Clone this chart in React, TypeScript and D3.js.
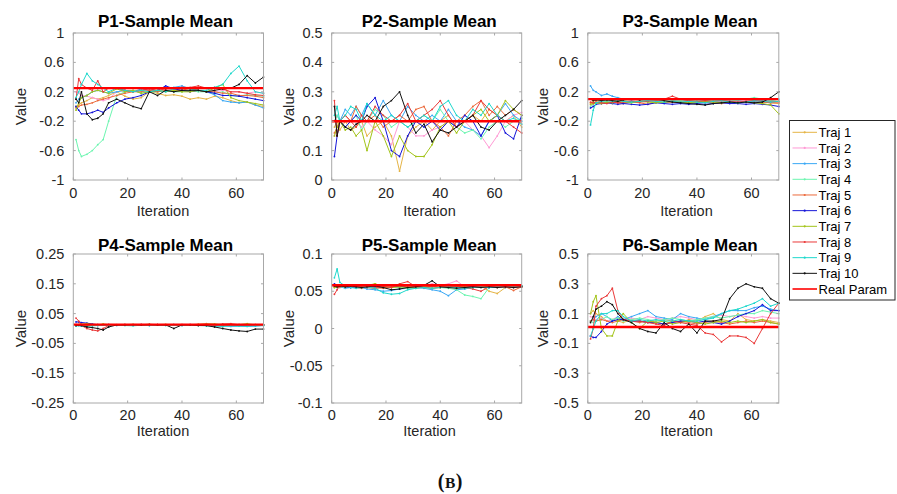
import React, { useEffect, useRef } from 'react';
import * as d3 from 'd3';

const iterations = [1, 2, 3, 5, 7, 9, 11, 13, 16, 19, 22, 25, 28, 31, 34, 37, 40, 43, 46, 49, 52, 55, 58, 61, 64, 67, 70];

const trajNames = ['Traj 1', 'Traj 2', 'Traj 3', 'Traj 4', 'Traj 5', 'Traj 6', 'Traj 7', 'Traj 8', 'Traj 9', 'Traj 10'];
const trajColors = ['#e5b445', '#ff9ad5', '#3aa8f5', '#6cf5b0', '#ec6a3c', '#1515d8', '#a3c41a', '#ea3a3a', '#1ed8cc', '#111111'];
const realColor = '#ff0000';

const panelTitles = ['P1-Sample Mean', 'P2-Sample Mean', 'P3-Sample Mean', 'P4-Sample Mean', 'P5-Sample Mean', 'P6-Sample Mean'];
const realParams = [0.25, 0.2, 0.1, 0.013, 0.058, 0.01];
const yDomains = [[-1, 1], [0, 0.5], [-1, 1], [-0.25, 0.25], [-0.1, 0.1], [-0.5, 0.5]];
const yTicks = [
  [-1, -0.6, -0.2, 0.2, 0.6, 1],
  [0, 0.1, 0.2, 0.3, 0.4, 0.5],
  [-1, -0.6, -0.2, 0.2, 0.6, 1],
  [-0.25, -0.15, -0.05, 0.05, 0.15, 0.25],
  [-0.1, -0.05, 0, 0.05, 0.1],
  [-0.5, -0.3, -0.1, 0.1, 0.3, 0.5],
];
const xDomain = [0, 70];
const xTicks = [0, 20, 40, 60];

const p1Traj = [
  [0.0, 0.02, 0.05, 0.08, 0.12, 0.1, 0.12, 0.15, 0.2, 0.14, 0.1, 0.12, 0.2, 0.18, 0.15, 0.16, 0.14, 0.1, 0.12, 0.1, 0.14, 0.12, 0.08, 0.05, 0.06, 0.02, 0.0],
  [0.2, 0.18, 0.15, 0.14, 0.12, 0.1, 0.08, 0.1, 0.2, 0.22, 0.2, 0.22, 0.22, 0.2, 0.22, 0.24, 0.22, 0.2, 0.22, 0.2, 0.2, 0.22, 0.2, 0.2, 0.18, 0.2, 0.18],
  [0.05, 0.1, 0.12, 0.15, 0.2, 0.22, 0.2, 0.18, 0.2, 0.22, 0.2, 0.24, 0.22, 0.25, 0.24, 0.26, 0.28, 0.24, 0.22, 0.2, 0.16, 0.08, 0.06, 0.05, 0.06, 0.02, -0.02],
  [-0.45, -0.6, -0.68, -0.65, -0.6, -0.52, -0.45, -0.2, 0.15, 0.2, 0.22, 0.18, 0.2, 0.2, 0.22, 0.2, 0.2, 0.22, 0.2, 0.2, 0.18, 0.2, 0.15, 0.14, 0.16, 0.15, 0.14],
  [-0.02, 0.0, 0.02, 0.03, 0.05, 0.08, 0.1, 0.12, 0.15, 0.18, 0.2, 0.2, 0.22, 0.2, 0.22, 0.22, 0.22, 0.25, 0.22, 0.2, 0.2, 0.18, 0.18, 0.15, 0.15, 0.14, 0.12],
  [0.0, -0.05, -0.1, -0.1, -0.08, -0.05, -0.08, -0.02, 0.05, 0.1, 0.12, 0.15, 0.2, 0.22, 0.28, 0.24, 0.22, 0.2, 0.22, 0.2, 0.18, 0.15, 0.15, 0.14, 0.12, 0.1, 0.08],
  [-0.05, 0.05, 0.12, 0.15, 0.2, 0.22, 0.2, 0.18, 0.24, 0.2, 0.22, 0.18, 0.2, 0.22, 0.2, 0.22, 0.2, 0.2, 0.22, 0.2, 0.25, 0.3, 0.12, 0.08, 0.06, 0.04, 0.02],
  [0.1, 0.38, 0.3, 0.25, 0.22, 0.35, 0.2, 0.25, 0.25, 0.22, 0.2, 0.22, 0.24, 0.22, 0.24, 0.25, 0.26, 0.26, 0.28, 0.25, 0.26, 0.24, 0.2, 0.2, 0.18, 0.16, 0.15],
  [0.12, 0.2, 0.3, 0.45, 0.35, 0.3, 0.25, 0.2, 0.25, 0.22, 0.2, 0.22, 0.2, 0.22, 0.2, 0.24, 0.25, 0.24, 0.22, 0.22, 0.26, 0.3, 0.45, 0.55, 0.35, 0.2, 0.18],
  [0.1, 0.05, 0.2, -0.1, -0.18, -0.16, -0.1, 0.05, 0.1, 0.05, 0.0, -0.03, 0.2, 0.15, 0.22, 0.2, 0.22, 0.22, 0.22, 0.2, 0.22, 0.24, 0.25, 0.3, 0.42, 0.32, 0.4],
];

const p2Traj = [
  [0.18, 0.2, 0.17, 0.2, 0.17, 0.18, 0.2, 0.15, 0.18, 0.2, 0.15, 0.03, 0.15, 0.18, 0.2, 0.17, 0.2, 0.22, 0.18, 0.2, 0.22, 0.2, 0.24, 0.22, 0.2, 0.22, 0.18],
  [0.15, 0.18, 0.2, 0.18, 0.2, 0.2, 0.18, 0.2, 0.17, 0.15, 0.12, 0.2, 0.18, 0.15, 0.15, 0.17, 0.18, 0.2, 0.18, 0.2, 0.17, 0.15, 0.11, 0.15, 0.2, 0.22, 0.23],
  [0.2, 0.22, 0.2, 0.24, 0.22, 0.25, 0.22, 0.26, 0.22, 0.27, 0.22, 0.2, 0.25, 0.22, 0.2, 0.22, 0.2, 0.24, 0.2, 0.18, 0.17, 0.15, 0.2, 0.22, 0.26, 0.22, 0.2],
  [0.2, 0.22, 0.2, 0.18, 0.2, 0.22, 0.17, 0.2, 0.24, 0.22, 0.18, 0.2, 0.18, 0.2, 0.22, 0.2, 0.24, 0.2, 0.18, 0.16, 0.17, 0.14, 0.18, 0.2, 0.18, 0.2, 0.21],
  [0.16, 0.18, 0.2, 0.22, 0.2, 0.25, 0.22, 0.2, 0.22, 0.18, 0.2, 0.22, 0.2, 0.24, 0.25, 0.2, 0.18, 0.15, 0.2, 0.22, 0.25, 0.27, 0.22, 0.25, 0.22, 0.24, 0.22],
  [0.08, 0.15, 0.2, 0.18, 0.2, 0.22, 0.2, 0.25, 0.28, 0.2, 0.1, 0.08, 0.15, 0.2, 0.18, 0.2, 0.17, 0.2, 0.18, 0.22, 0.2, 0.15, 0.2, 0.22, 0.16, 0.14, 0.22],
  [0.15, 0.18, 0.2, 0.17, 0.18, 0.15, 0.17, 0.1, 0.2, 0.15, 0.08, 0.15, 0.1, 0.08, 0.08, 0.12, 0.18, 0.2, 0.16, 0.2, 0.22, 0.24, 0.2, 0.22, 0.27, 0.24, 0.22],
  [0.27, 0.15, 0.2, 0.22, 0.2, 0.18, 0.22, 0.2, 0.25, 0.22, 0.2, 0.22, 0.26, 0.2, 0.22, 0.24, 0.27, 0.22, 0.18, 0.2, 0.22, 0.27, 0.24, 0.22, 0.2, 0.18, 0.16],
  [0.22, 0.25, 0.2, 0.22, 0.25, 0.24, 0.2, 0.26, 0.22, 0.2, 0.22, 0.2, 0.18, 0.2, 0.22, 0.2, 0.25, 0.27, 0.22, 0.2, 0.24, 0.22, 0.26, 0.22, 0.2, 0.21, 0.19],
  [0.25, 0.15, 0.2, 0.18, 0.17, 0.19, 0.2, 0.22, 0.2, 0.25, 0.27, 0.3, 0.22, 0.16, 0.19, 0.13, 0.17, 0.16, 0.18, 0.2, 0.22, 0.18, 0.17, 0.2, 0.22, 0.24, 0.27],
];

const p3Traj = [
  [0.05, 0.07, 0.08, 0.06, 0.07, 0.06, 0.08, 0.07, 0.08, 0.07, 0.08, 0.07, 0.08, 0.06, 0.07, 0.08, 0.07, 0.06, 0.07, 0.08, 0.07, 0.06, 0.07, 0.08, 0.06, 0.05, 0.04],
  [0.02, 0.04, 0.05, 0.06, 0.07, 0.08, 0.07, 0.06, 0.08, 0.07, 0.08, 0.07, 0.08, 0.07, 0.06, 0.08, 0.07, 0.08, 0.06, 0.07, 0.08, 0.07, 0.08, 0.07, 0.08, 0.07, 0.06],
  [0.28, 0.22, 0.2, 0.15, 0.17, 0.14, 0.12, 0.1, 0.09, 0.1, 0.08, 0.09, 0.1, 0.08, 0.09, 0.08, 0.07, 0.08, 0.09, 0.08, 0.07, 0.08, 0.06, 0.07, 0.08, 0.08, 0.1],
  [0.0, 0.03, 0.05, 0.06, 0.07, 0.08, 0.07, 0.08, 0.06, 0.07, 0.08, 0.07, 0.08, 0.09, 0.08, 0.07, 0.08, 0.07, 0.09, 0.08, 0.07, 0.09, 0.1, 0.12, 0.1, 0.08, 0.07],
  [0.05, 0.04, 0.05, 0.04, 0.05, 0.06, 0.05, 0.04, 0.06, 0.05, 0.03, 0.06, 0.05, 0.06, 0.05, 0.06, 0.05, 0.06, 0.05, 0.04, 0.06, 0.05, 0.06, 0.05, 0.06, 0.05, 0.05],
  [-0.02, 0.0, 0.03, 0.04, 0.05, 0.04, 0.03, 0.04, 0.03, 0.02, 0.03, 0.05, 0.04, 0.03, 0.04, 0.03, 0.04, 0.03, 0.04, 0.05, 0.04, 0.04, 0.03, 0.04, 0.03, 0.02, 0.0],
  [0.03, 0.04, 0.05, 0.04, 0.06, 0.05, 0.07, 0.06, 0.05, 0.07, 0.06, 0.05, 0.06, 0.07, 0.06, 0.05, 0.06, 0.07, 0.06, 0.05, 0.06, 0.05, 0.06, 0.05, 0.04, 0.02, -0.1],
  [0.06, 0.05, 0.06, 0.05, 0.04, 0.06, 0.05, 0.06, 0.07, 0.06, 0.07, 0.08, 0.1, 0.14, 0.1, 0.08, 0.07, 0.08, 0.07, 0.08, 0.07, 0.06, 0.07, 0.08, 0.07, 0.06, 0.07],
  [-0.25, -0.05, 0.05, 0.07, 0.08, 0.07, 0.08, 0.07, 0.06, 0.07, 0.08, 0.07, 0.06, 0.07, 0.06, 0.07, 0.06, 0.05, 0.07, 0.08, 0.06, 0.05, 0.06, 0.08, 0.07, 0.06, 0.07],
  [0.1, 0.08, 0.09, 0.08, 0.09, 0.08, 0.07, 0.09, 0.1, 0.09, 0.1, 0.1, 0.08, 0.06, 0.05, 0.04, 0.03, 0.02, 0.04, 0.05, 0.06, 0.05, 0.06, 0.05, 0.06, 0.12, 0.2],
];

const p4Traj = [
  [0.012, 0.013, 0.014, 0.015, 0.013, 0.012, 0.014, 0.013, 0.012, 0.013, 0.014, 0.013, 0.012, 0.013, 0.014, 0.012, 0.013, 0.012, 0.014, 0.015, 0.013, 0.012, 0.014, 0.013, 0.012, 0.013, 0.013],
  [0.014, 0.013, 0.012, 0.013, 0.012, 0.013, 0.012, 0.014, 0.013, 0.012, 0.013, 0.014, 0.013, 0.012, 0.013, 0.012, 0.014, 0.013, 0.012, 0.013, 0.014, 0.013, 0.012, 0.013, 0.012, 0.013, 0.012],
  [0.012, 0.01, 0.008, 0.01, 0.012, 0.01, 0.012, 0.011, 0.01, 0.012, 0.011, 0.012, 0.01, 0.012, 0.011, 0.012, 0.01, 0.011, 0.012, 0.01, 0.008, 0.009, 0.007, 0.008, 0.007, 0.008, 0.01],
  [0.013, 0.012, 0.011, 0.012, 0.01, 0.012, 0.011, 0.012, 0.013, 0.011, 0.012, 0.013, 0.012, 0.011, 0.012, 0.013, 0.011, 0.012, 0.013, 0.012, 0.011, 0.012, 0.01, 0.011, 0.012, 0.011, 0.012],
  [0.01, 0.011, 0.012, 0.01, 0.012, 0.013, 0.012, 0.011, 0.012, 0.013, 0.012, 0.011, 0.012, 0.013, 0.012, 0.011, 0.012, 0.013, 0.014, 0.016, 0.014, 0.013, 0.012, 0.011, 0.012, 0.012, 0.012],
  [0.022, 0.022, 0.02, 0.018, 0.015, 0.013, 0.012, 0.013, 0.012, 0.013, 0.012, 0.013, 0.012, 0.013, 0.012, 0.013, 0.012, 0.013, 0.012, 0.013, 0.012, 0.013, 0.012, 0.011, 0.012, 0.012, 0.012],
  [0.012, 0.013, 0.014, 0.016, 0.013, 0.012, 0.015, 0.013, 0.012, 0.013, 0.012, 0.013, 0.014, 0.012, 0.013, 0.012, 0.013, 0.012, 0.013, 0.014, 0.015, 0.013, 0.012, 0.013, 0.016, 0.012, 0.012],
  [0.035, 0.025, 0.01, 0.0, -0.005, -0.008, 0.0, 0.01, 0.012, 0.013, 0.012, 0.013, 0.014, 0.013, 0.012, 0.013, 0.012, 0.013, 0.012, 0.013, 0.012, 0.015, 0.016, 0.013, 0.012, 0.013, 0.013],
  [0.008, 0.01, 0.009, 0.007, 0.009, 0.01, 0.011, 0.01, 0.011, 0.01, 0.009, 0.011, 0.01, 0.011, 0.01, 0.011, 0.01, 0.011, 0.01, 0.009, 0.008, 0.007, 0.009, 0.008, 0.008, 0.009, 0.01],
  [0.01, 0.012, 0.01, 0.005, 0.003, 0.0, -0.005, 0.005, 0.012, 0.012, 0.013, 0.012, 0.013, 0.012, 0.012, 0.0, 0.012, 0.012, 0.01, 0.01, 0.005, 0.0, -0.005, -0.008, -0.01, -0.002, -0.002],
];

const p5Traj = [
  [0.055, 0.056, 0.055, 0.056, 0.057, 0.056, 0.055, 0.057, 0.06, 0.056, 0.055, 0.056, 0.057, 0.056, 0.055, 0.054, 0.056, 0.057, 0.056, 0.055, 0.056, 0.057, 0.05, 0.047, 0.055, 0.056, 0.057],
  [0.058, 0.057, 0.056, 0.057, 0.055, 0.056, 0.057, 0.056, 0.057, 0.058, 0.056, 0.057, 0.058, 0.059, 0.058, 0.06, 0.058, 0.06, 0.064, 0.056, 0.055, 0.056, 0.057, 0.056, 0.057, 0.056, 0.057],
  [0.056, 0.055, 0.056, 0.054, 0.055, 0.056, 0.055, 0.053, 0.052, 0.05, 0.051, 0.053, 0.054, 0.055, 0.054, 0.052, 0.05, 0.044, 0.052, 0.053, 0.055, 0.056, 0.057, 0.056, 0.055, 0.056, 0.057],
  [0.057, 0.056, 0.057, 0.055, 0.056, 0.057, 0.056, 0.055, 0.054, 0.055, 0.056, 0.055, 0.054, 0.056, 0.055, 0.054, 0.055, 0.054, 0.052, 0.045, 0.043, 0.04, 0.055, 0.056, 0.057, 0.056, 0.057],
  [0.056, 0.057, 0.056, 0.057, 0.056, 0.055, 0.054, 0.056, 0.055, 0.054, 0.056, 0.057, 0.056, 0.055, 0.056, 0.054, 0.055, 0.056, 0.057, 0.054, 0.056, 0.057, 0.056, 0.055, 0.056, 0.051, 0.056],
  [0.06, 0.058, 0.057, 0.056, 0.055, 0.056, 0.057, 0.058, 0.056, 0.057, 0.058, 0.056, 0.058, 0.057, 0.056, 0.057, 0.058, 0.057, 0.056, 0.057, 0.056, 0.057, 0.055, 0.056, 0.057, 0.056, 0.057],
  [0.055, 0.056, 0.057, 0.056, 0.057, 0.058, 0.057, 0.058, 0.06, 0.056, 0.055, 0.056, 0.055, 0.054, 0.056, 0.057, 0.055, 0.056, 0.057, 0.056, 0.055, 0.056, 0.057, 0.058, 0.057, 0.056, 0.057],
  [0.046, 0.052, 0.058, 0.057, 0.056, 0.057, 0.056, 0.055, 0.054, 0.056, 0.055, 0.06, 0.063, 0.056, 0.055, 0.057, 0.055, 0.056, 0.057, 0.055, 0.053, 0.05, 0.056, 0.057, 0.056, 0.055, 0.056],
  [0.068, 0.08, 0.062, 0.057, 0.055, 0.054, 0.055, 0.056, 0.054, 0.048, 0.046, 0.047, 0.052, 0.054, 0.055, 0.054, 0.055, 0.056, 0.055, 0.054, 0.055, 0.056, 0.055, 0.056, 0.057, 0.056, 0.057],
  [0.057, 0.056, 0.057, 0.056, 0.057, 0.056, 0.055, 0.056, 0.057, 0.055, 0.052, 0.053, 0.055, 0.056, 0.058, 0.064, 0.056, 0.055, 0.054, 0.055, 0.056, 0.055, 0.056, 0.055, 0.056, 0.055, 0.056],
];

const p6Traj = [
  [0.1, 0.12, 0.1, 0.08, 0.05, 0.06, 0.05, 0.04, 0.06, 0.05, 0.04, 0.05, 0.06, 0.05, 0.04, 0.06, 0.05, 0.08, 0.1, 0.06, 0.05, 0.1, 0.06, 0.05, 0.06, 0.05, 0.04],
  [0.08, 0.07, 0.06, 0.07, 0.05, 0.06, 0.08, 0.06, 0.07, 0.06, 0.08, 0.07, 0.06, 0.07, 0.08, 0.07, 0.06, 0.07, 0.08, 0.09, 0.08, 0.09, 0.08, 0.07, 0.08, 0.07, 0.07],
  [0.05, 0.06, 0.08, 0.1, 0.08, 0.05, 0.08, 0.06, 0.08, 0.1, 0.12, 0.08, 0.07, 0.06, 0.1, 0.08, 0.07, 0.06, 0.08, 0.1, 0.12, 0.12, 0.12, 0.14, 0.15, 0.13, 0.12],
  [0.05, 0.04, 0.05, 0.06, 0.08, 0.06, 0.07, 0.05, 0.06, 0.07, 0.06, 0.05, 0.06, 0.07, 0.06, 0.05, 0.06, 0.07, 0.08, 0.07, 0.08, 0.09, 0.1, 0.1, 0.12, 0.11, 0.1],
  [0.05, 0.06, 0.05, 0.06, 0.05, 0.04, 0.05, 0.06, 0.05, 0.04, 0.05, 0.04, 0.03, 0.04, 0.05, 0.04, 0.03, 0.04, 0.05, 0.04, 0.03, 0.04, 0.05, 0.04, 0.05, 0.04, 0.03],
  [-0.05, -0.06, -0.06, -0.02, 0.03, 0.05, 0.06, 0.06, 0.05, 0.05, 0.04, 0.04, 0.03, 0.04, 0.05, 0.05, 0.04, 0.05, 0.04, 0.03, 0.05, 0.08, 0.1, 0.12, 0.16, 0.12, 0.12],
  [0.1, 0.18, 0.22, 0.0, -0.05, -0.05, 0.05, 0.1, 0.04, 0.0, 0.05, 0.04, 0.05, 0.03, 0.04, 0.05, 0.04, 0.03, 0.04, 0.05, 0.04, 0.05, 0.04, 0.05, 0.06, 0.04, 0.03],
  [-0.07, 0.0, 0.15, 0.2, 0.22, 0.27, 0.12, 0.06, 0.05, 0.05, 0.04, 0.03, 0.02, 0.05, 0.04, 0.03, 0.02, -0.03, -0.04, -0.09, -0.05, -0.05, -0.06, -0.1, 0.0, 0.1, 0.17],
  [-0.05, 0.0, 0.05, 0.1, 0.1, 0.12, 0.12, 0.08, 0.05, 0.06, 0.05, 0.06, 0.05, 0.05, 0.06, 0.05, 0.05, 0.06, 0.07, 0.1, 0.12, 0.13, 0.15, 0.17, 0.2, 0.15, 0.17],
  [0.04, 0.08, 0.13, 0.15, 0.18, 0.16, 0.1, 0.06, 0.04, 0.0, -0.02, -0.03, 0.04, 0.0, -0.02, 0.03, -0.03, 0.05, 0.05, 0.06, 0.2, 0.27, 0.3, 0.28, 0.27, 0.2, 0.17],
];

const panelTraj = [p1Traj, p2Traj, p3Traj, p4Traj, p5Traj, p6Traj];

function App() {
  const svgRef = useRef<SVGSVGElement>(null);

  useEffect(() => {
    const svg = d3.select(svgRef.current);
    svg.selectAll('*').remove();

    const font = '"Liberation Sans", Arial, Helvetica, sans-serif';
    const textColor = '#262626';
    const boxColor = '#a8a8a8';

    // measured panel geometry
    const colLeft = [73.3, 331.7, 587.8];
    const colWidth = [190.2, 190, 191];
    const rowTop = [33, 254];
    const rowHeight = [147, 149];
    const titleX = [165.5, 429.2, 690];
    const titleY = [27, 250.5];
    const xLabelX = [163, 429.5, 686.5];
    const xLabelY = [215.5, 435.5];
    const xTickY = [17.5, 17.3];
    const yLabelX = [20.7, 288.8, 542.5];

    panelTitles.forEach((title, p) => {
      const col = p % 3;
      const row = Math.floor(p / 3);
      const left = colLeft[col];
      const top = rowTop[row];
      const w = colWidth[col];
      const h = rowHeight[row];

      const x = d3.scaleLinear().domain(xDomain).range([left, left + w]);
      const y = d3.scaleLinear().domain(yDomains[p]).range([top + h, top]);

      const g = svg.append('g');

      g.append('rect')
        .attr('x', left).attr('y', top).attr('width', w).attr('height', h)
        .attr('fill', '#fff');

      // trajectories
      const line = d3.line<number>()
        .x((_, i) => x(iterations[i]))
        .y(d => y(d));

      panelTraj[p].forEach((series, k) => {
        g.append('path')
          .datum(series)
          .attr('d', line)
          .attr('fill', 'none')
          .attr('stroke', trajColors[k])
          .attr('stroke-width', 1)
          .attr('stroke-linejoin', 'round');
        g.selectAll(null)
          .data(series)
          .join('circle')
          .attr('cx', (_, i) => x(iterations[i]))
          .attr('cy', d => y(d))
          .attr('r', 0.9)
          .attr('fill', trajColors[k]);
      });

      // real parameter
      g.append('line')
        .attr('x1', x(xDomain[0])).attr('x2', x(xDomain[1]))
        .attr('y1', y(realParams[p])).attr('y2', y(realParams[p]))
        .attr('stroke', realColor)
        .attr('stroke-width', 2.4);

      // box
      g.append('rect')
        .attr('x', left).attr('y', top).attr('width', w).attr('height', h)
        .attr('fill', 'none')
        .attr('stroke', boxColor)
        .attr('stroke-width', 1);

      // x ticks (inside, top and bottom)
      xTicks.forEach(t => {
        g.append('line').attr('x1', x(t)).attr('x2', x(t)).attr('y1', top + h).attr('y2', top + h - 2.5)
          .attr('stroke', boxColor);
        g.append('line').attr('x1', x(t)).attr('x2', x(t)).attr('y1', top).attr('y2', top + 2.5)
          .attr('stroke', boxColor);
        g.append('text')
          .attr('x', x(t)).attr('y', top + h + xTickY[row])
          .attr('text-anchor', 'middle')
          .style('font-family', font).style('font-size', '14.5px').style('fill', textColor)
          .text(String(t));
      });

      // y ticks
      yTicks[p].forEach(t => {
        g.append('line').attr('x1', left).attr('x2', left + 2.5).attr('y1', y(t)).attr('y2', y(t))
          .attr('stroke', boxColor);
        g.append('line').attr('x1', left + w).attr('x2', left + w - 2.5).attr('y1', y(t)).attr('y2', y(t))
          .attr('stroke', boxColor);
        g.append('text')
          .attr('x', left - 9).attr('y', y(t))
          .attr('dy', '0.35em')
          .attr('text-anchor', 'end')
          .style('font-family', font).style('font-size', '14.5px').style('fill', textColor)
          .text(String(t));
      });

      // title
      g.append('text')
        .attr('x', titleX[col]).attr('y', titleY[row])
        .attr('text-anchor', 'middle')
        .style('font-family', font).style('font-size', '17px').style('font-weight', 'bold')
        .style('fill', '#000')
        .text(title);

      // axis labels
      g.append('text')
        .attr('x', xLabelX[col]).attr('y', xLabelY[row])
        .attr('text-anchor', 'middle')
        .style('font-family', font).style('font-size', '14.5px').style('fill', textColor)
        .text('Iteration');

      g.append('text')
        .attr('transform', `translate(${yLabelX[col]},${top + h / 2}) rotate(-90)`)
        .attr('dy', '0.35em')
        .attr('text-anchor', 'middle')
        .style('font-family', font).style('font-size', '15px').style('fill', textColor)
        .text('Value');
    });

    // legend
    const legX = 789.5;
    const legY = 120.5;
    const legW = 105.5;
    const legH = 179.5;
    const rowGap = 15.67;
    const firstRow = 132.3;
    const leg = svg.append('g');
    leg.append('rect')
      .attr('x', legX).attr('y', legY).attr('width', legW).attr('height', legH)
      .attr('fill', '#fff').attr('stroke', '#262626').attr('stroke-width', 1);

    const legendItems = [...trajNames, 'Real Param'];
    const legendColors = [...trajColors, realColor];
    legendItems.forEach((name, i) => {
      const ly = firstRow + i * rowGap;
      leg.append('line')
        .attr('x1', 792.5).attr('x2', 817).attr('y1', ly).attr('y2', ly)
        .attr('stroke', legendColors[i])
        .attr('stroke-width', i < 10 ? 1 : 1.6);
      if (i < 10) {
        leg.append('circle').attr('cx', 804.7).attr('cy', ly).attr('r', 1.1).attr('fill', legendColors[i]);
      }
      leg.append('text')
        .attr('x', 818.5).attr('y', ly)
        .attr('dy', '0.35em')
        .style('font-family', font).style('font-size', '13px').style('fill', '#000')
        .text(name);
    });

    // caption
    const cap = svg.append('text')
      .attr('x', 450.3).attr('y', 487.5)
      .attr('text-anchor', 'middle')
      .style('font-family', '"Liberation Serif", "DejaVu Serif", serif')
      .style('font-size', '20px')
      .style('font-weight', 'bold')
      .style('letter-spacing', '0.5px')
      .style('fill', '#111');
    cap.append('tspan').text('(');
    cap.append('tspan').style('font-size', '15.5px').text('B');
    cap.append('tspan').text(')');
  }, []);

  return (
    <svg
      ref={svgRef}
      width={897}
      height={494}
      style={{ position: 'absolute', left: 0, top: 0, background: '#fff' }}
    />
  );
}

export default App;
